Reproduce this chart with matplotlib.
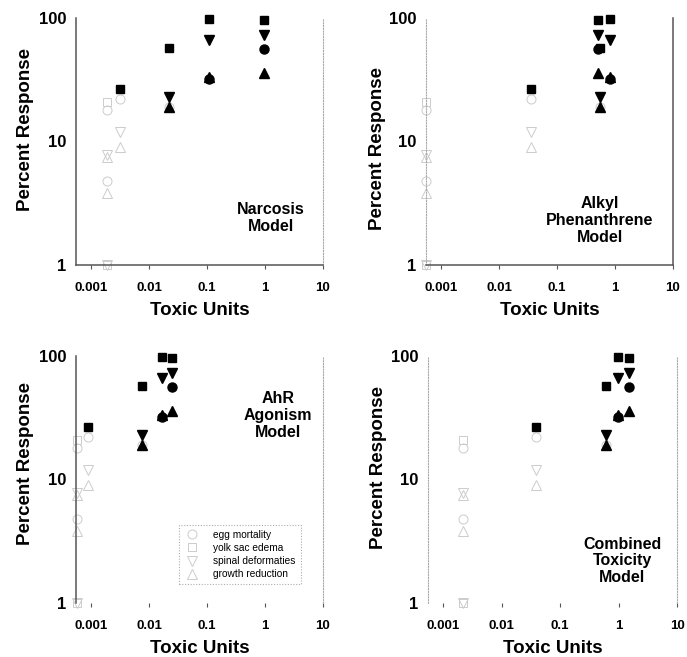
import matplotlib
matplotlib.use("Agg")
import matplotlib.pyplot as plt
from matplotlib.lines import Line2D

plt.rcParams['font.family'] = ['Liberation Sans', 'DejaVu Sans']

# stations: two reference sites, then four exposed sites
stations = ["R1", "R2", "S1", "S2", "S3", "S4"]

# toxic units per station for each model
tu_narcosis = [0.0019, 0.0019, 0.0032, 0.022, 0.107, 0.98]
tu_alkyl = [0.00055, 0.00055, 0.036, 0.56, 0.83, 0.52]
tu_ahr = [0.00058, 0.00058, 0.0009, 0.0077, 0.017, 0.025]
tu_combined = [0.0022, 0.0022, 0.039, 0.60, 0.98, 1.5]

# percent response per endpoint
egg_mortality = [18, 4.8, 22, 19, 32, 56]
yolk_sac_edema = [21, 1, 26.6, 57, 98, 96]
spinal_deformaties = [7.8, 1, 12, 23, 66, 73]
growth_reduction = [7.5, 3.8, 9, 19, 33, 36]

# 1 = significant (filled black), 0 = not (open grey)
egg_sig = [0, 0, 0, 0, 1, 1]
yolk_sig = [0, 0, 1, 1, 1, 1]
spinal_sig = [0, 0, 0, 1, 1, 1]
growth_sig = [0, 0, 0, 1, 1, 1]

endpoints = [
    ("egg mortality", egg_mortality, egg_sig, "o", 6.5),
    ("yolk sac edema", yolk_sac_edema, yolk_sig, "s", 6),
    ("spinal deformaties", spinal_deformaties, spinal_sig, "v", 6.5),
    ("growth reduction", growth_reduction, growth_sig, "^", 6.5),
]

x_ticks = [0.001, 0.01, 0.1, 1, 10]
x_labels = ["0.001", "0.01", "0.1", "1", "10"]
y_ticks = [1, 10, 100]
y_labels = ["1", "10", "100"]

grey = "#cccccc"
axis_col = "#555555"

fig = plt.figure(figsize=(6.87, 6.57), dpi=100)


def draw_panel(rect, tu, title, title_xy, left_style, right_style, bottom, ylab_x):
    ax = fig.add_axes(rect)
    ax.set_xscale("log")
    ax.set_yscale("log")
    ax.set_xlim(0.00055, 10)
    ax.set_ylim(1, 100)

    # open (non significant) first, then filled
    for name, vals, sig, m, ms in endpoints:
        xo = [t for t, s in zip(tu, sig) if s == 0]
        yo = [v for v, s in zip(vals, sig) if s == 0]
        ax.plot(xo, yo, linestyle="none", marker=m, markersize=ms,
                markerfacecolor="none", markeredgecolor=grey,
                markeredgewidth=0.7, clip_on=False)
    for name, vals, sig, m, ms in endpoints:
        xf = [t for t, s in zip(tu, sig) if s == 1]
        yf = [v for v, s in zip(vals, sig) if s == 1]
        ax.plot(xf, yf, linestyle="none", marker=m, markersize=ms,
                color="black", clip_on=False, zorder=3)

    ax.xaxis.set_minor_locator(matplotlib.ticker.NullLocator())
    ax.yaxis.set_minor_locator(matplotlib.ticker.NullLocator())
    ax.set_xticks(x_ticks)
    ax.set_xticklabels(x_labels, fontsize=9.5, fontweight="bold")
    ax.set_yticks(y_ticks)
    ax.set_yticklabels(y_labels, fontsize=12, fontweight="bold")
    ax.tick_params(axis="x", length=3, width=0.8, color=axis_col, pad=9)
    ax.tick_params(axis="y", length=0, pad=7)

    ax.spines["top"].set_visible(False)
    for side, style in (("left", left_style), ("right", right_style)):
        sp = ax.spines[side]
        if style == "dotted":
            sp.set_linestyle((0, (1, 1.5)))
            sp.set_color("#aaaaaa")
            sp.set_linewidth(0.8)
        else:
            sp.set_color(axis_col)
            sp.set_linewidth(1.1)
    if bottom:
        ax.spines["bottom"].set_color(axis_col)
        ax.spines["bottom"].set_linewidth(1.1)
    else:
        ax.spines["bottom"].set_visible(False)

    ax.set_xlabel("Toxic Units", fontsize=13.5, fontweight="bold")
    ax.xaxis.set_label_coords(0.5, -0.15)
    ax.set_ylabel("Percent Response", fontsize=13.5, fontweight="bold")
    ax.yaxis.set_label_coords(ylab_x[0], ylab_x[1])

    ax.text(title_xy[0], title_xy[1], title, transform=ax.transAxes,
            ha="center", va="center", fontsize=11.5, fontweight="bold",
            linespacing=1.15)
    return ax


ax1 = draw_panel([0.1106, 0.5967, 0.3595, 0.376], tu_narcosis,
                 "Narcosis\nModel", (0.79, 0.19), "solid", "dotted", True,
                 (-0.17, 0.55))
ax2 = draw_panel([0.620, 0.5967, 0.3595, 0.376], tu_alkyl,
                 "Alkyl\nPhenanthrene\nModel", (0.705, 0.18), "dotted", "solid", True,
                 (-0.162, 0.47))
ax3 = draw_panel([0.1106, 0.0822, 0.3595, 0.376], tu_ahr,
                 "AhR\nAgonism\nModel", (0.818, 0.76), "solid", "dotted", False,
                 (-0.17, 0.565))
ax4 = draw_panel([0.623, 0.0822, 0.3625, 0.376], tu_combined,
                 "Combined\nToxicity\nModel", (0.78, 0.17), "dotted", "dotted", False,
                 (-0.165, 0.55))

handles = [Line2D([], [], linestyle="none", marker=m, markersize=ms,
                  markerfacecolor="none", markeredgecolor=grey, markeredgewidth=0.7)
           for name, vals, sig, m, ms in endpoints]
labels = [e[0] for e in endpoints]
leg = ax3.legend(handles, labels, loc="upper left", bbox_to_anchor=(0.417, 0.316),
                 borderaxespad=0, fontsize=7.3, frameon=True, fancybox=False,
                 handlelength=1.5, handletextpad=1.4, labelspacing=0.3,
                 borderpad=0.5)
frame = leg.get_frame()
frame.set_edgecolor("#999999")
frame.set_linestyle((0, (1, 1.5)))
frame.set_linewidth(0.8)

fig.savefig("out.png", dpi=100)
